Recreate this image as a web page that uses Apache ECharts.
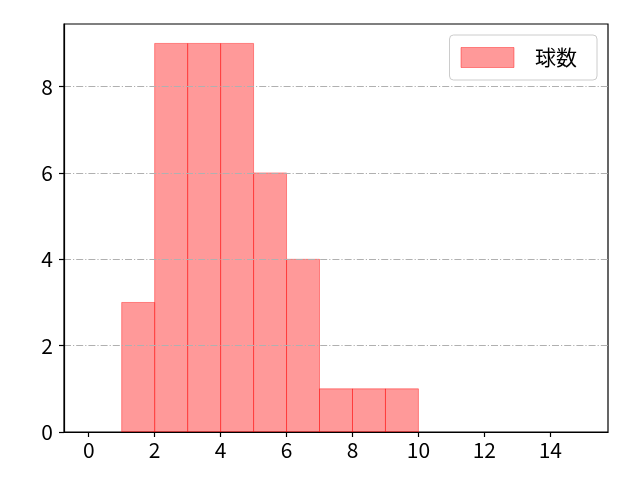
<!DOCTYPE html>
<html>
<head>
<meta charset="utf-8">
<script src="https://cdn.jsdelivr.net/npm/echarts@6/dist/echarts.min.js"></script>
<style>html,body{margin:0;padding:0;background:#fff;}#c{width:640px;height:480px;}</style>
</head>
<body>
<div id="c"></div>
<script>
const binStarts = [1, 2, 3, 4, 5, 6, 7, 8, 9];
const binEnds   = [2, 3, 4, 5, 6, 7, 8, 9, 10];
const counts    = [3, 9, 9, 9, 6, 4, 1, 1, 1];
const xTicks = [0, 2, 4, 6, 8, 10, 12, 14];
const yTicks = [0, 2, 4, 6, 8];
const seriesName = '球数';

const data = binStarts.map((s, i) => [s, binEnds[i], counts[i]]);
const FONT = 'Noto Sans CJK JP';

const chart = echarts.init(document.getElementById('c'), null, {renderer: 'canvas'});
chart.setOption({
  animation: false,
  backgroundColor: '#ffffff',
  grid: {left: 64, right: 32, top: 24, bottom: 48, show: true, borderColor: '#000', borderWidth: 1.2, backgroundColor: 'transparent'},
  legend: {
    right: 43, top: 35,
    data: [{name: seriesName, icon: 'rect'}],
    itemWidth: 53, itemHeight: 20,
    padding: [12, 20, 12, 11],
    backgroundColor: '#fff',
    borderColor: '#cccccc', borderWidth: 1, borderRadius: 4,
    textStyle: {fontFamily: FONT, fontSize: 21, color: '#000', padding: [0, 0, 0, 16]},
    itemStyle: {color: 'rgba(255,0,0,0.4)', borderColor: 'rgba(255,0,0,0.4)', borderWidth: 1}
  },
  xAxis: {
    type: 'value', min: -0.75, max: 15.75, z: 6,
    axisLine: {show: true, onZero: false, lineStyle: {color: '#000', width: 1.2}},
    axisTick: {show: true, length: 5, inside: false, customValues: xTicks, lineStyle: {color: '#000', width: 1.2}},
    axisLabel: {customValues: xTicks, margin: 8, fontFamily: FONT, fontSize: 21, color: '#000'},
    splitLine: {show: false}
  },
  yAxis: {
    type: 'value', min: 0, max: 9.45, z: 5,
    axisLine: {show: true, onZero: false, lineStyle: {color: '#000', width: 1.2}},
    axisTick: {show: true, length: 5, inside: false, customValues: yTicks, lineStyle: {color: '#000', width: 1.2}},
    axisLabel: {customValues: yTicks, margin: 11, fontFamily: FONT, fontSize: 21, color: '#000'},
    splitLine: {show: true, lineStyle: {color: '#b0b0b0', width: 1, type: [7, 2, 1.2, 2]}}
  },
  series: [{
    name: seriesName,
    type: 'custom',
    z: 1,
    itemStyle: {color: 'rgba(255,0,0,0.4)'},
    renderItem: function (params, api) {
      const p0 = api.coord([api.value(0), 0]);
      const p1 = api.coord([api.value(1), api.value(2)]);
      return {
        type: 'rect',
        shape: {x: p0[0], y: p1[1], width: p1[0] - p0[0], height: p0[1] - p1[1]},
        style: {fill: 'rgba(255,0,0,0.4)', stroke: 'rgba(255,0,0,0.4)', lineWidth: 1}
      };
    },
    encode: {x: [0, 1], y: 2},
    data: data
  }]
});
</script>
</body>
</html>
